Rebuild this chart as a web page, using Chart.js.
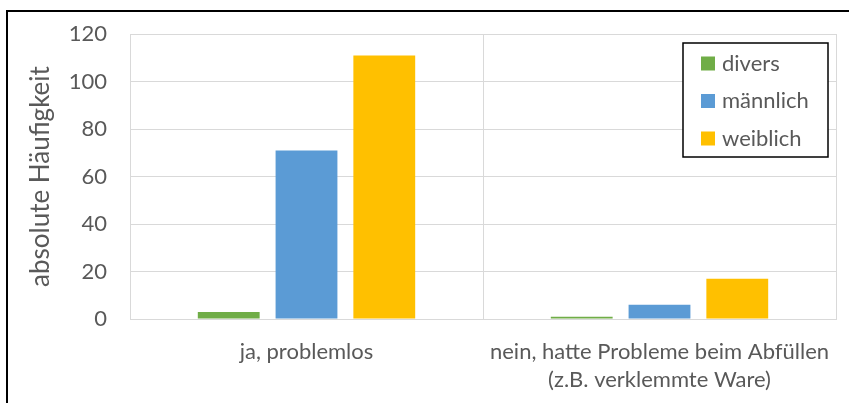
<!DOCTYPE html>
<html>
<head>
<meta charset="utf-8">
<script src="https://cdn.jsdelivr.net/npm/chart.js@4.4.1/dist/chart.umd.min.js"></script>
<style>
  html, body { margin: 0; padding: 0; background: #fff; }
  #wrap { position: relative; width: 849px; height: 403px; overflow: hidden; }
  #frame { position: absolute; left: 6px; top: 10px; width: 900px; height: 500px;
           border: 2px solid #000; box-sizing: border-box; }
  canvas { position: absolute; left: 0; top: 0; }
</style>
</head>
<body>
<div id="wrap">
  <div id="frame"></div>
  <canvas id="c" width="849" height="403"></canvas>
</div>
<script>
// Antworten (Kategorien) und Häufigkeiten je Geschlecht
var categories = [
    'ja, problemlos',
    ['nein, hatte Probleme beim Abfüllen', '(z.B. verklemmte Ware)']
];
var divers    = [3, 1];
var maennlich = [71, 6];
var weiblich  = [111, 17];
var yTicks    = [0, 20, 40, 60, 80, 100, 120];

var FONT = 'Lato, Calibri, sans-serif';
var GREY = '#595959';

// Legende im Diagrammbereich, wie in Excel (mit Rahmen)
var boxLegend = {
    id: 'boxLegend',
    afterDraw: function (chart) {
        var ctx = chart.ctx;
        var x = 683, y = 43, w = 145, h = 114;
        ctx.save();
        ctx.fillStyle = '#fff';
        ctx.fillRect(x, y, w, h);
        ctx.strokeStyle = '#000';
        ctx.lineWidth = 1.5;
        ctx.strokeRect(x, y, w, h);
        ctx.font = '22px ' + FONT;
        ctx.textBaseline = 'middle';
        chart.data.datasets.forEach(function (ds, i) {
            var cy = 63.5 + i * 37.5;
            ctx.fillStyle = ds.backgroundColor;
            ctx.fillRect(x + 18, cy - 7, 14, 14);
            ctx.fillStyle = GREY;
            ctx.fillText(ds.label, x + 39, cy);
        });
        ctx.restore();
    }
};

new Chart(document.getElementById('c'), {
    type: 'bar',
    data: {
        labels: categories,
        datasets: [
            { label: 'divers',    data: divers,    backgroundColor: '#70AD47' },
            { label: 'männlich',  data: maennlich, backgroundColor: '#5B9BD5' },
            { label: 'weiblich',  data: weiblich,  backgroundColor: '#FFC000' }
        ]
    },
    options: {
        responsive: false,
        animation: false,
        layout: { padding: { left: 8, top: 34, right: 13, bottom: 0 } },
        datasets: { bar: { categoryPercentage: 0.661, barPercentage: 0.795 } },
        plugins: { legend: { display: false }, tooltip: { enabled: false } },
        scales: {
            x: {
                grid: { color: '#d9d9d9', lineWidth: 1, offset: true, drawTicks: false },
                border: { color: '#d9d9d9' },
                ticks: { color: GREY, font: { family: FONT, size: 22, lineHeight: 1.27 }, padding: 19, maxRotation: 0 },
                afterFit: function (s) {
                    s.height = 84;
                    s.paddingLeft = 0;
                    s.paddingRight = 0;
                }
            },
            y: {
                min: 0, max: 120,
                afterBuildTicks: function (s) { s.ticks = yTicks.map(function (v) { return { value: v }; }); },
                grid: { color: '#d9d9d9', lineWidth: 1, drawTicks: false },
                border: { display: false },
                ticks: { color: GREY, font: { family: FONT, size: 22 }, padding: 23 },
                title: { display: true, text: 'absolute Häufigkeit', color: GREY,
                         font: { family: FONT, size: 26 }, padding: { top: 17, bottom: 0 } },
                afterFit: function (s) {
                    s.width = 122;
                    s.paddingTop = 0;
                    s.paddingBottom = 0;
                }
            }
        }
    },
    plugins: [boxLegend]
});
</script>
</body>
</html>
